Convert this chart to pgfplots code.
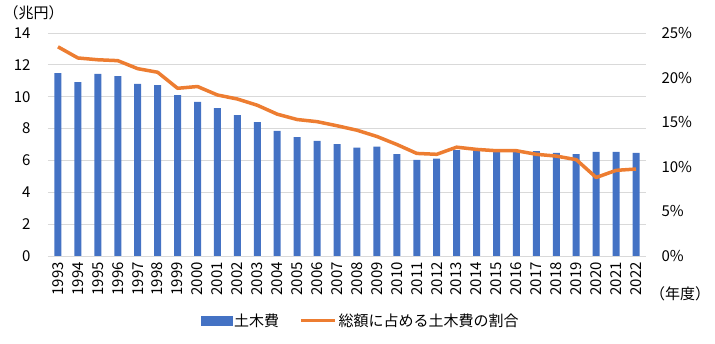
\documentclass[border=0pt]{standalone}
\usepackage{pgfplots}
\pgfplotsset{compat=1.18}
\usepackage{pgfplotstable}
\usepackage{fontspec}
\setmainfont{Noto Sans CJK JP}
\definecolor{barblue}{HTML}{4472C4}
\definecolor{lineorange}{HTML}{ED7D31}
\definecolor{gridgray}{HTML}{D9D9D9}

\pgfplotstableread{
x year cost share
0 1993 11.48 23.45
1 1994 10.92 22.2
2 1995 11.43 22.0
3 1996 11.30 21.9
4 1997 10.80 21.0
5 1998 10.73 20.6
6 1999 10.10 18.8
7 2000 9.67 19.0
8 2001 9.29 18.05
9 2002 8.85 17.6
10 2003 8.41 16.9
11 2004 7.85 15.9
12 2005 7.47 15.3
13 2006 7.22 15.06
14 2007 7.03 14.6
15 2008 6.80 14.1
16 2009 6.86 13.4
17 2010 6.40 12.5
18 2011 6.03 11.5
19 2012 6.11 11.4
20 2013 6.65 12.2
21 2014 6.59 11.95
22 2015 6.55 11.8
23 2016 6.59 11.8
24 2017 6.59 11.4
25 2018 6.47 11.2
26 2019 6.40 10.8
27 2020 6.53 8.8
28 2021 6.53 9.6
29 2022 6.47 9.75
}\datatable

\newcommand{\fs}{\fontsize{15pt}{18pt}\selectfont}

\begin{document}
\begin{tikzpicture}
\begin{axis}[
  at={(0pt,0pt)}, anchor=south west,
  width=598pt, height=223pt, scale only axis,
  xmin=-0.5, xmax=29.5, ymin=0, ymax=14,
  ytick={0,2,...,14},
  xtick={0,...,29},
  xticklabels={1993,1994,1995,1996,1997,1998,1999,2000,2001,2002,2003,2004,2005,2006,2007,2008,2009,2010,2011,2012,2013,2014,2015,2016,2017,2018,2019,2020,2021,2022},
  xticklabel style={rotate=90, anchor=east, font=\fs, inner sep=1pt},
  yticklabel style={font=\fs},
  /pgf/number format/assume math mode=true,
  ymajorgrids, grid style={draw=gridgray, line width=0.8pt},
  axis x line*=bottom, axis y line*=left,
  x axis line style={draw=gridgray, line width=0.8pt, -},
  y axis line style={draw=none},
  major tick length=0pt,
  xtick style={draw=none}, ytick style={draw=none},
  xticklabel shift=5pt, yticklabel shift=14pt,
]
\addplot[ybar, bar width=7pt, fill=barblue, draw=none] table[x=x, y=cost] {\datatable};
\end{axis}
\begin{axis}[
  at={(0pt,0pt)}, anchor=south west,
  width=598pt, height=223pt, scale only axis,
  xmin=-0.5, xmax=29.5, ymin=0, ymax=25,
  ytick={0,5,...,25},
  yticklabel={\pgfmathprintnumber{\tick}\%},
  yticklabel style={font=\fs, anchor=west},
  /pgf/number format/assume math mode=true,
  axis y line*=right, axis x line=none,
  y axis line style={draw=none},
  major tick length=0pt, ytick style={draw=none},
  yticklabel shift=12pt,
  legend style={at={(0.523,-0.29)}, anchor=center, legend columns=2, draw=none, fill=none, font=\fs,
    /tikz/every even column/.append style={column sep=18pt}},
]
\addlegendimage{legend image code/.code={\fill[barblue] (0pt,-4.5pt) rectangle (31pt,4.5pt);}}
\addlegendentry{土木費}
\addplot[lineorange, line width=3.5pt, line join=round, no markers,
  legend image code/.code={\draw[lineorange, line width=3.5pt] (0pt,0pt) -- (34pt,0pt);}]
  table[x=x, y=share] {\datatable};
\addlegendentry{総額に占める土木費の割合}
\end{axis}
\node[font=\fs] at (-14.5pt,243pt) {（兆円）};
\node[font=\fs] at (632pt,-38pt) {（年度）};
\pgfresetboundingbox
\useasboundingbox (-48pt,-88pt) rectangle (667pt,256pt);
\end{tikzpicture}
\end{document}
